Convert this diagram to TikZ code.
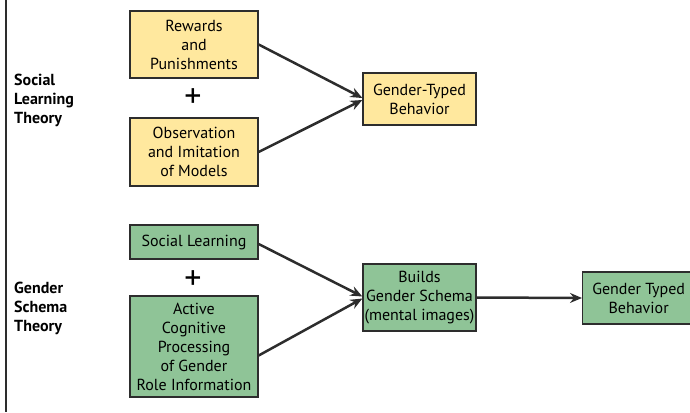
\documentclass[tikz,border=0pt]{standalone}
\usepackage{fontspec}
\setmainfont{PT Sans}
\usetikzlibrary{positioning,arrows.meta}
\definecolor{sandy}{RGB}{255,232,158}
\definecolor{sage}{RGB}{143,196,151}
\definecolor{edge}{RGB}{45,45,45}

\begin{document}
\begin{tikzpicture}[x=1pt,y=-1pt,
  yb/.style={draw=edge,fill=sandy,line width=1.3pt,minimum width=128pt,
             align=center,font=\fontsize{16}{19}\selectfont,inner sep=0pt},
  gb/.style={yb,fill=sage},
  th/.style={align=left,anchor=west,font=\fontsize{16}{19}\selectfont\bfseries,inner sep=0pt},
  pl/.style={font=\fontsize{34}{34}\selectfont,inner sep=0pt},
  a/.style={-{Stealth[length=12pt,width=10pt,inset=4pt]},edge,line width=2.5pt}]
  \clip (0,0) rectangle (690,412);
  \draw[edge,line width=1.6pt] (6,0) -- (6,412);
  % social learning theory
  \node[th] (slt) at (14,100) {Social\\Learning\\Theory};
  \node[yb,minimum height=67pt] (rw) at (194,44.5) {Rewards\\and\\Punishments};
  \node[pl] (p1) at (193,98) {+};
  \node[yb,minimum height=68pt] (ob) at (194,152) {Observation\\and Imitation\\of Models};
  \node[yb,minimum width=113pt,minimum height=52pt] (gt) at (419.5,99) {Gender-Typed\\Behavior};
  \draw[a] (rw.east) -- ([yshift=1pt]gt.west);
  \draw[a] (ob.east) -- ([yshift=-1pt]gt.west);
  % gender schema theory
  \node[th] (gst) at (14,308) {Gender\\Schema\\Theory};
  \node[gb,minimum height=34pt] (sl) at (194,242) {Social Learning};
  \node[pl] (p2) at (193,280) {+};
  \node[gb,minimum height=101pt] (ac) at (194,346.5) {Active\\Cognitive\\Processing\\of Gender\\Role Information};
  \node[gb,minimum width=113pt,minimum height=67pt] (bg) at (419.5,297.5) {Builds\\Gender Schema\\(mental images)};
  \node[gb,minimum width=120pt,minimum height=52pt,anchor=west] (gtb) at (582,298) {\hspace*{-8pt}Gender Typed\\\hspace*{-8pt}Behavior};
  \draw[a] ([yshift=-2pt]sl.east) -- ([yshift=1pt]bg.west);
  \draw[a] ([yshift=-9pt]ac.east) -- ([yshift=-1pt]bg.west);
  \draw[a] (bg.east) -- (gtb.west);
\end{tikzpicture}
\end{document}
